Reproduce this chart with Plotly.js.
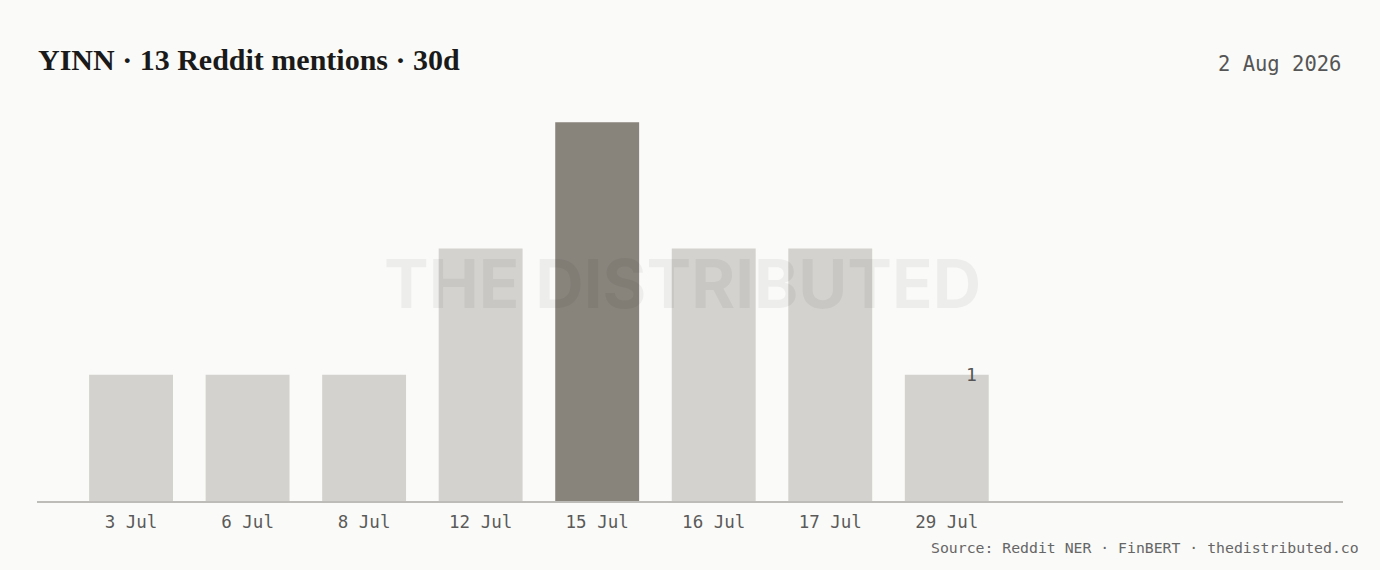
<!DOCTYPE html>
<html><head><meta charset="utf-8">
<script src="https://cdn.plot.ly/plotly-3.0.1.min.js"></script>
<style>html,body{margin:0;padding:0;background:#fafaf8;}#c{width:1380px;height:570px;}</style>
</head><body><div id="c"></div>
<script>
var categories = ["3 Jul","6 Jul","8 Jul","12 Jul","15 Jul","16 Jul","17 Jul","29 Jul"];
var mentions = [1,1,1,2,3,2,2,1];
var titleText = "YINN · 13 Reddit mentions · 30d";
var dateText = "2 Aug 2026";
var sourceText = "Source: Reddit NER · FinBERT · thedistributed.co";
var watermark = "THE DISTRIBUTED";

var maxV = Math.max.apply(null, mentions);
var colors = mentions.map(function(v){ return v === maxV ? "#88837b" : "#d3d2ce"; });
var mono = "'DejaVu Sans Mono', 'Liberation Mono', monospace";

var trace = {
  type: "bar", x: categories, y: mentions, width: 0.72,
  marker: {color: colors, line: {width: 0}}, hoverinfo: "skip"
};
var last = categories.length - 1;
var layout = {
  width: 1380, height: 570,
  paper_bgcolor: "#fafaf8", plot_bgcolor: "#fafaf8",
  margin: {l: 37, r: 37, t: 59, b: 69},
  showlegend: false,
  xaxis: {type: "category", range: [-0.807, 10.40], showgrid: false, zeroline: false,
    showline: true, linecolor: "#bdbcb8", linewidth: 1.5, ticks: "", ticklabelstandoff: 4,
    tickfont: {family: mono, size: 17.5, color: "#5a5a5a"}, fixedrange: true},
  yaxis: {range: [0, 3.5], showgrid: false, zeroline: false, showticklabels: false, fixedrange: true},
  annotations: [
    {text: titleText, xref: "paper", yref: "paper", x: -0.0005, y: 1.0, xanchor: "left", yanchor: "middle",
     yshift: 0, showarrow: false, font: {family: "'Liberation Serif', 'DejaVu Serif', serif", size: 30, color: "#1a1a1a", weight: "bold"}},
    {text: dateText, xref: "paper", yref: "paper", x: 1, y: 1.0, xanchor: "right", yanchor: "middle", yshift: -5,
     showarrow: false, font: {family: mono, size: 20.5, color: "#555"}},
    {text: sourceText, xref: "paper", yref: "paper", x: 1.0135, y: 0, yshift: -46, xanchor: "right", yanchor: "middle",
     showarrow: false, font: {family: mono, size: 14.8, color: "#666"}},
    {text: watermark, xref: "paper", yref: "paper", x: 0.4946, y: 0.5, yshift: -3, xanchor: "center", yanchor: "middle",
     showarrow: false, font: {family: "Inter, 'Open Sans', sans-serif", size: 67, color: "rgba(0,0,0,0.05)", weight: "bold"}},
    {text: String(mentions[last]), x: categories[last], y: mentions[last], xshift: 25, yanchor: "middle", yshift: 0,
     showarrow: false, font: {family: mono, size: 18, color: "#555"}}
  ]
};
Plotly.newPlot("c", [trace], layout, {displayModeBar: false, staticPlot: true});
</script></body></html>
